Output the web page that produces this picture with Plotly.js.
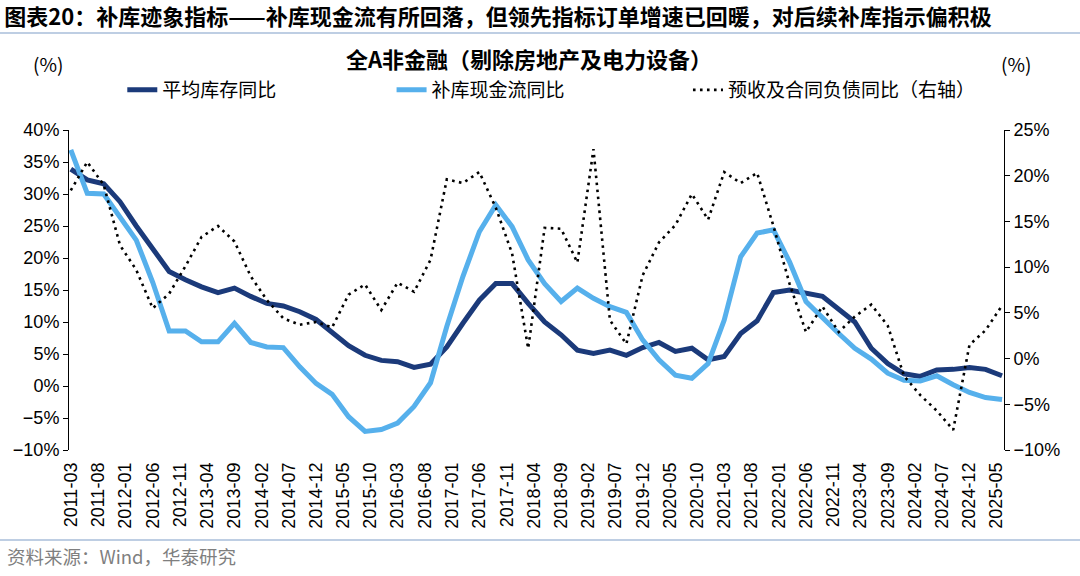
<!DOCTYPE html>
<html>
<head>
<meta charset="utf-8">
<script src="https://cdn.plot.ly/plotly-3.0.1.min.js"></script>
<style>
html,body{margin:0;padding:0;background:#fff;}
#chart{width:1080px;height:576px;}
</style>
</head>
<body>
<div id="chart"></div>
<script>
// quarterly dates
const dates = ['2011-03','2011-06','2011-09','2011-12','2012-03','2012-06','2012-09','2012-12',
'2013-03','2013-06','2013-09','2013-12','2014-03','2014-06','2014-09','2014-12',
'2015-03','2015-06','2015-09','2015-12','2016-03','2016-06','2016-09','2016-12',
'2017-03','2017-06','2017-09','2017-12','2018-03','2018-06','2018-09','2018-12',
'2019-03','2019-06','2019-09','2019-12','2020-03','2020-06','2020-09','2020-12',
'2021-03','2021-06','2021-09','2021-12','2022-03','2022-06','2022-09','2022-12',
'2023-03','2023-06','2023-09','2023-12','2024-03','2024-06','2024-09','2024-12',
'2025-03','2025-06'];

// 平均库存同比 (left axis, %)
const avgInventory = [33.9,32.2,31.6,28.8,25.0,21.5,17.9,16.6,
15.5,14.6,15.3,14.0,12.9,12.5,11.6,10.4,
8.3,6.3,4.8,4.0,3.8,2.9,3.4,6.1,
9.8,13.4,16.0,16.0,12.9,10.0,8.0,5.6,
5.1,5.6,4.8,6.0,6.8,5.4,5.9,4.1,
4.6,8.2,10.2,14.6,15.0,14.5,14.0,12.0,
10.0,5.9,3.5,1.9,1.5,2.5,2.6,2.9,
2.6,1.6];

// 补库现金流同比 (left axis, %)
const restockCash = [36.9,30.1,30.0,26.5,22.8,16.2,8.6,8.6,
6.9,6.9,9.8,6.8,6.1,6.0,3.0,0.4,
-1.3,-4.8,-7.1,-6.8,-5.8,-3.2,0.5,9.3,
17.1,24.1,28.3,24.9,19.7,16.0,13.2,15.3,
13.7,12.4,11.5,7.2,4.1,1.7,1.2,3.5,
10.3,20.2,23.9,24.4,19.4,13.2,10.6,8.2,
5.9,4.2,2.0,0.9,0.8,1.6,0.2,-1.0,
-1.8,-2.1];

// 预收及合同负债同比 (right axis, %)
const advanceRecv = [18.4,21.5,19.0,12.4,9.7,5.5,7.1,10.1,
13.3,14.5,12.8,9.0,6.4,4.4,3.7,4.0,
3.4,7.0,8.1,5.3,8.3,7.3,10.8,19.6,
19.2,20.4,16.5,11.5,1.1,14.3,14.2,10.5,
22.9,4.2,1.6,9.1,12.7,14.6,18.0,15.2,
20.4,19.2,20.3,14.5,8.2,2.9,5.7,2.9,
4.6,5.9,3.6,-1.9,-4.0,-5.7,-7.8,1.5,
3.1,5.8];

// x-axis tick labels (every 5 months)
const tickLabels = ['2011-03','2011-08','2012-01','2012-06','2012-11','2013-04','2013-09',
'2014-02','2014-07','2014-12','2015-05','2015-10','2016-03','2016-08','2017-01','2017-06',
'2017-11','2018-04','2018-09','2019-02','2019-07','2019-12','2020-05','2020-10','2021-03',
'2021-08','2022-01','2022-06','2022-11','2023-04','2023-09','2024-02','2024-07','2024-12','2025-05'];

const seriesNames = ['平均库存同比','补库现金流同比','预收及合同负债同比（右轴）'];

const FONT = 'Liberation Sans, Arial, Noto Sans CJK SC, sans-serif';
const CJK = 'Noto Sans CJK SC, Liberation Sans, sans-serif';
const DARK = '#1B3A7A';
const LIGHT = '#56B0EC';

const traces = [
  {x: dates, y: avgInventory, name: seriesNames[0], type: 'scatter', mode: 'lines',
   line: {color: DARK, width: 5}, xaxis: 'x', yaxis: 'y', legend: 'legend'},
  {x: dates, y: restockCash, name: seriesNames[1], type: 'scatter', mode: 'lines',
   line: {color: LIGHT, width: 5}, xaxis: 'x', yaxis: 'y', legend: 'legend2'},
  {x: dates, y: advanceRecv, name: seriesNames[2], type: 'scatter', mode: 'lines',
   line: {color: '#000000', width: 2.6, dash: '2.6px,4.4px'}, xaxis: 'x', yaxis: 'y2', legend: 'legend3'}
];

const legendCommon = {orientation: 'h', yanchor: 'middle', y: 1.125, xanchor: 'left',
  bgcolor: 'rgba(0,0,0,0)', font: {family: CJK, size: 19, color: '#000'}, itemwidth: 30};

const layout = {
  width: 1080, height: 576,
  margin: {l: 69, r: 76, t: 130, b: 126},
  paper_bgcolor: '#fff', plot_bgcolor: '#fff',
  font: {family: FONT, size: 18, color: '#000'},
  title: {text: '<b>图表20：补库迹象指标——补库现金流有所回落，但领先指标订单增速已回暖，对后续补库指示偏积极</b>',
    font: {family: CJK, size: 22, color: '#000'},
    xref: 'container', yref: 'container', x: 0.004, xanchor: 'left', y: 1 - 17/576, yanchor: 'middle'},
  showlegend: true,
  legend: Object.assign({}, legendCommon, {x: 0.057}),
  legend2: Object.assign({}, legendCommon, {x: 0.345}),
  legend3: Object.assign({}, legendCommon, {x: 0.662}),
  xaxis: {
    type: 'date', range: ['2011-02-19', '2025-06-12'],
    tickmode: 'array', tickvals: tickLabels, ticktext: tickLabels,
    tickangle: -90, ticks: '', showline: false, showgrid: false, zeroline: false,
    ticklabelstandoff: 8,
    tickfont: {family: FONT, size: 18, color: '#000'}
  },
  xaxis2: {
    type: 'date', range: ['2011-02-19', '2025-06-12'], overlaying: 'x', anchor: 'free', position: 0.2,
    tickmode: 'array', tickvals: tickLabels, showticklabels: false,
    ticks: 'outside', ticklen: 6, tickcolor: '#000', tickwidth: 1,
    showline: true, linecolor: '#000', linewidth: 1, showgrid: false, zeroline: false
  },
  yaxis: {
    range: [-10, 40], dtick: 5, tick0: 0, ticksuffix: '%',
    showline: true, linecolor: '#000', linewidth: 1, ticks: 'outside', ticklen: 5, tickcolor: '#000',
    showgrid: false, zeroline: false, tickfont: {family: FONT, size: 18, color: '#000'}
  },
  yaxis2: {
    range: [-10, 25], dtick: 5, tick0: 0, ticksuffix: '%', overlaying: 'y', side: 'right',
    showline: true, linecolor: '#000', linewidth: 1, ticks: 'outside', ticklen: 5, tickcolor: '#000',
    showgrid: false, zeroline: false, tickfont: {family: FONT, size: 18, color: '#000'}
  },
  shapes: [
    {type: 'line', xref: 'paper', yref: 'paper', x0: -69/935, x1: 1011/935, y0: (450-33)/320, y1: (450-33)/320,
     line: {color: '#A9BEDA', width: 1.5}},
    {type: 'line', xref: 'paper', yref: 'paper', x0: -69/935, x1: 1011/935, y0: (450-540)/320, y1: (450-540)/320,
     line: {color: '#A9BEDA', width: 1.5}}
  ],
  annotations: [
    {text: '<b>全A非金融（剔除房地产及电力设备）</b>', xref: 'paper', yref: 'paper', x: 0.492, y: (450-58)/320,
     xanchor: 'center', yanchor: 'middle', showarrow: false, font: {family: CJK, size: 22, color: '#000'}},
    {text: '(%)', xref: 'paper', yref: 'paper', x: (48-69)/935, y: (450-64)/320,
     xanchor: 'center', yanchor: 'middle', showarrow: false, font: {family: CJK, size: 19, color: '#000'}},
    {text: '(%)', xref: 'paper', yref: 'paper', x: (1016-69)/935, y: (450-64)/320,
     xanchor: 'center', yanchor: 'middle', showarrow: false, font: {family: CJK, size: 19, color: '#000'}},
    {text: '资料来源：Wind，华泰研究', xref: 'paper', yref: 'paper', x: (5-69)/935, y: (450-556)/320,
     xanchor: 'left', yanchor: 'middle', showarrow: false, font: {family: CJK, size: 18.5, color: '#7F7F7F'}}
  ]
};

Plotly.newPlot('chart', traces, layout, {displayModeBar: false, staticPlot: true});
</script>
</body>
</html>
